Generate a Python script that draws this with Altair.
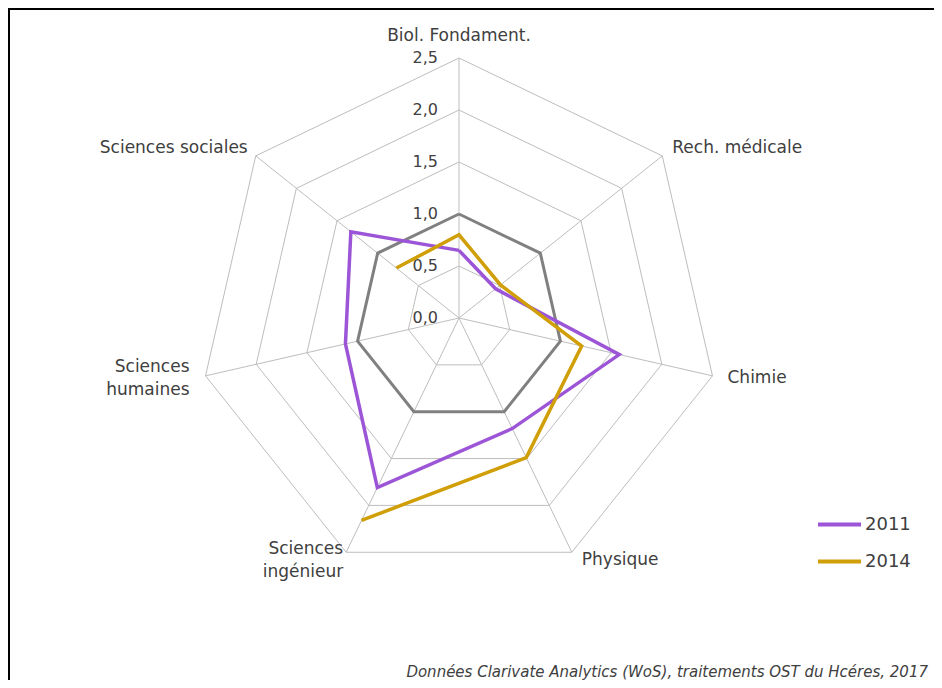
import math
import altair as alt
import pandas as pd

# ---------------- data ----------------
categories = ["Biol. Fondament.", "Rech. médicale", "Chimie", "Physique",
              "Sciences\ningénieur", "Sciences\nhumaines", "Sciences sociales"]
series_names = ["2011", "2014"]
values_2011 = [0.65, 0.45, 1.58, 1.18, 1.81, 1.12, 1.33]
values_2014 = [0.80, 0.51, 1.21, 1.49, 2.16, None, 0.77]
reference = [1.0, 1.0, 1.0, 1.0, 1.0, 1.0, 1.0]
ticks = [0.0, 0.5, 1.0, 1.5, 2.0, 2.5]
tick_labels = ["0,0", "0,5", "1,0", "1,5", "2,0", "2,5"]
source_note = "Données Clarivate Analytics (WoS), traitements OST du Hcéres, 2017"

# ---------------- layout ----------------
W, H = 926, 672
CX, CY = 451, 310          # centre of radar in chart pixels
PPU = 104                  # pixels per unit
N = len(categories)
xscale = alt.Scale(domain=[-CX / PPU, (W - CX) / PPU], nice=False, zero=False)
yscale = alt.Scale(domain=[-(H - CY) / PPU, CY / PPU], nice=False, zero=False)
RMAX = ticks[-1]

PURPLE = "#9B55D6"
GOLD = "#D09E06"
REFGRAY = "#808080"
GRID = "#BDBDBD"
TEXT = "#404040"
FONT = "DejaVu Sans"


def path_rows(name, values):
    n = len(values)
    missing = [i for i, v in enumerate(values) if v is None]
    if not missing:
        order = list(range(n)) + [0]
    else:
        start = (missing[0] + 1) % n
        order = [(start + k) % n for k in range(n) if values[(start + k) % n] is not None]
    return [{"series": name, "idx": i, "value": values[i], "step": s} for s, i in enumerate(order)]


calc_x = f"datum.value * sin(datum.idx * 2 * PI / {N})"
calc_y = f"datum.value * cos(datum.idx * 2 * PI / {N})"

X = alt.X("px:Q", scale=xscale, axis=None)
Y = alt.Y("py:Q", scale=yscale, axis=None)

# grid rings
ring_rows = []
for t in ticks[1:]:
    for s, i in enumerate(list(range(N)) + [0]):
        ring_rows.append({"ring": t, "idx": i, "value": t, "step": s})
rings = alt.Chart(pd.DataFrame(ring_rows)).transform_calculate(
    px=calc_x, py=calc_y
).mark_line(color=GRID, strokeWidth=1).encode(
    x=X, y=Y, order="step:Q", detail="ring:N"
)

# spokes
spoke_df = pd.DataFrame({"idx": list(range(N)), "value": [RMAX] * N})
spokes = alt.Chart(spoke_df).transform_calculate(
    px=calc_x, py=calc_y, zx="0", zy="0"
).mark_rule(color=GRID, strokeWidth=1).encode(
    x=alt.X("zx:Q", scale=xscale, axis=None), y=alt.Y("zy:Q", scale=yscale, axis=None),
    x2="px:Q", y2="py:Q"
)

# tick labels
tick_df = pd.DataFrame({"value": ticks, "label": tick_labels, "idx": [0] * len(ticks)})
tick_text = alt.Chart(tick_df).transform_calculate(
    px=calc_x, py=calc_y
).mark_text(align="right", baseline="middle", dx=-21, fontSize=16, font=FONT, color=TEXT).encode(
    x=X, y=Y, text="label:N"
)

# reference polygon
ref_line = alt.Chart(pd.DataFrame(path_rows("ref", reference))).transform_calculate(
    px=calc_x, py=calc_y
).mark_line(color=REFGRAY, strokeWidth=3).encode(x=X, y=Y, order="step:Q")

# series
series_rows = path_rows(series_names[0], values_2011) + path_rows(series_names[1], values_2014)
lines = alt.Chart(pd.DataFrame(series_rows)).transform_calculate(
    px=calc_x, py=calc_y
).mark_line(strokeWidth=3.5, strokeJoin="miter").encode(
    x=X, y=Y, order="step:Q",
    color=alt.Color("series:N", scale=alt.Scale(domain=series_names, range=[PURPLE, GOLD]),
                    legend=alt.Legend(title=None, orient="none", legendX=808, legendY=493,
                                      symbolType="stroke", symbolSize=1849, symbolStrokeWidth=4,
                                      labelFontSize=18, labelFont=FONT, labelColor=TEXT,
                                      labelOffset=2, rowPadding=4)),
    detail="series:N"
)

# category labels
label_style = [
    dict(align="center", dx=0, dy=-22),
    dict(align="left", dx=10, dy=-8),
    dict(align="left", dx=15, dy=2),
    dict(align="left", dx=10, dy=8),
    dict(align="right", dx=-3, dy=-3),
    dict(align="right", dx=-16, dy=-9),
    dict(align="right", dx=-8, dy=-8),
]
label_layers = []
for i, (cat, st) in enumerate(zip(categories, label_style)):
    df = pd.DataFrame({"idx": [i], "value": [RMAX], "label": [cat]})
    label_layers.append(
        alt.Chart(df).transform_calculate(px=calc_x, py=calc_y).mark_text(
            baseline="middle", fontSize=17, font=FONT, color=TEXT, lineBreak="\n",
            lineHeight=23, **st
        ).encode(x=X, y=Y, text="label:N")
    )

note = alt.Chart(pd.DataFrame({"t": [source_note]})).mark_text(
    align="right", baseline="bottom", fontSize=15, fontStyle="italic", font=FONT, color=TEXT
).encode(x=alt.value(920), y=alt.value(H), text="t:N")

frame_top = alt.Chart(pd.DataFrame({"a": [0]})).mark_rule(color="black", strokeWidth=2).encode(
    x=alt.value(0), x2=alt.value(W), y=alt.value(1))
frame_left = alt.Chart(pd.DataFrame({"a": [0]})).mark_rule(color="black", strokeWidth=2).encode(
    x=alt.value(1), y=alt.value(0), y2=alt.value(H))

chart = alt.layer(
    rings, spokes, tick_text, ref_line, lines, *label_layers, note, frame_top, frame_left
).properties(
    width=W, height=H, autosize=alt.AutoSizeParams(type="none"), padding=0
).configure_view(stroke=None).configure(background="white")

chart.save("out.html", embed_options={"renderer": "svg", "actions": False})
